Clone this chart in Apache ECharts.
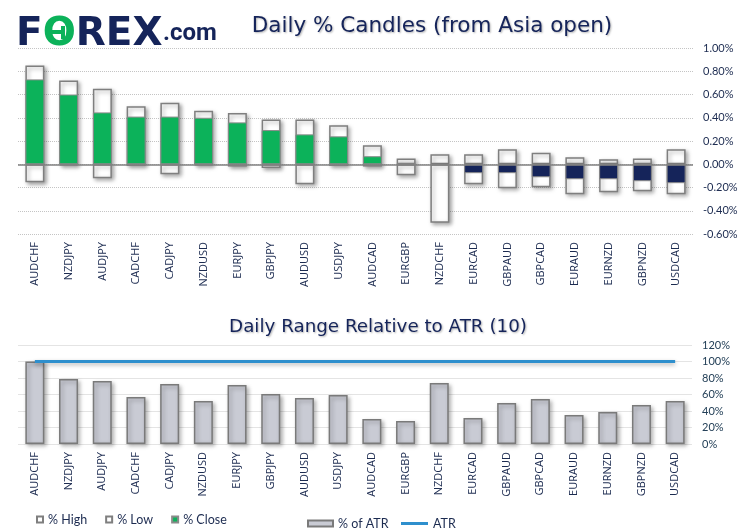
<!DOCTYPE html>
<html>
<head>
<meta charset="utf-8">
<script src="https://cdn.jsdelivr.net/npm/echarts@6/dist/echarts.min.js"></script>
<style>html,body{margin:0;padding:0;background:#fff;}#c{width:749px;height:532px;}</style>
</head>
<body>
<div id="c"></div>
<script>
var categories = ['AUDCHF','NZDJPY','AUDJPY','CADCHF','CADJPY','NZDUSD','EURJPY','GBPJPY','AUDUSD','USDJPY','AUDCAD','EURGBP','NZDCHF','EURCAD','GBPAUD','GBPCAD','EURAUD','EURNZD','GBPNZD','USDCAD'];
var highVals  = [0.85,0.72,0.65,0.50,0.53,0.46,0.44,0.385,0.385,0.335,0.163,0.05,0.086,0.086,0.129,0.10,0.06,0.043,0.05,0.129];
var lowVals   = [-0.155,-0.01,-0.12,-0.015,-0.086,-0.01,-0.02,-0.032,-0.172,-0.015,-0.02,-0.095,-0.504,-0.172,-0.206,-0.197,-0.258,-0.24,-0.232,-0.258];
var closeVals = [0.73,0.60,0.446,0.41,0.41,0.40,0.36,0.294,0.257,0.24,0.069,0.002,-0.005,-0.077,-0.077,-0.112,-0.129,-0.129,-0.146,-0.163];
var atrPctVals = [100,78.8,76.4,57,72.7,52.1,71.5,60.6,55.8,59.4,30.3,27.9,73.9,31.5,49.7,54.5,35.2,38.8,47.3,52.1];
var atrLineVals = [100,100,100,100,100,100,100,100,100,100,100,100,100,100,100,100,100,100,100,100];
var topTicks = {min:-0.6, max:1.0, interval:0.2};
var botTicks = {min:0, max:120, interval:20};

var NAVY = '#15245a', GREEN = '#0cb25a', TXT = '#1c2b50';
var FONT = 'Lato, "Open Sans", sans-serif';
var chart = echarts.init(document.getElementById('c'), null, {renderer:'canvas'});
var boxStyle = {color:'#ffffff', borderColor:'#7f7f7f', borderWidth:1.5, shadowColor:'rgba(0,0,0,0.35)', shadowBlur:4, shadowOffsetX:2, shadowOffsetY:2};
var closeData = closeVals.map(function(v){ return {value:v, itemStyle:{color: v>=0 ? GREEN : NAVY}}; });
var titleShadow = {textShadowColor:'rgba(0,0,0,0.3)', textShadowBlur:2, textShadowOffsetX:1, textShadowOffsetY:1};

chart.setOption({
  animation:false,
  textStyle:{fontFamily:FONT},
  graphic:[
    {type:'text', left:16, top:15, style:{text:'{n|F}{g|O}{n|REX}', rich:{n:{font:'bold 39px "DejaVu Sans"', fill:NAVY}, g:{font:'bold 39px "DejaVu Sans"', fill:GREEN}}}},
    {type:'rect', shape:{x:48, y:30, width:16, height:4}, style:{fill:GREEN}, z:100},
    {type:'rect', shape:{x:61, y:26, width:4, height:13}, style:{fill:GREEN}, z:100},
    {type:'text', left:163, top:22, style:{text:'.com', font:'bold 24px Roboto', fill:NAVY}},
    {type:'text', x:432, y:26, style:Object.assign({text:'Daily % Candles (from Asia open)', font:'21.5px "DejaVu Sans"', fill:NAVY, textAlign:'center', textVerticalAlign:'middle'}, titleShadow)},
    {type:'text', x:378, y:327, style:Object.assign({text:'Daily Range Relative to ATR (10)', font:'18.3px "DejaVu Sans"', fill:NAVY, textAlign:'center', textVerticalAlign:'middle'}, titleShadow)}
  ],
  legend:[
    {data:['% High','% Low','% Close'], left:31, top:508, icon:'rect', itemWidth:6, itemHeight:6, itemGap:18, textStyle:{color:TXT, fontSize:12.5, fontFamily:FONT}},
    {data:['% of ATR'], left:302, top:512, icon:'rect', itemWidth:25, itemHeight:6, textStyle:{color:TXT, fontSize:12.5, fontFamily:FONT}},
    {data:['ATR'], left:396, top:512, icon:'rect', itemWidth:27, itemHeight:3, textStyle:{color:TXT, fontSize:12.5, fontFamily:FONT}}
  ],
  grid:[
    {left:18, right:56, top:48, bottom:298},
    {left:18, right:57, top:345, bottom:88}
  ],
  xAxis:[
    {type:'category', gridIndex:0, data:categories, axisLine:{show:false, onZero:false}, axisTick:{show:false}, axisLabel:{rotate:90, margin:8, fontSize:11, color:TXT, fontFamily:'"Open Sans"'}},
    {type:'category', gridIndex:1, data:categories, axisLine:{show:false}, axisTick:{show:false}, axisLabel:{rotate:90, margin:8, fontSize:11, color:TXT, fontFamily:'"Open Sans"'}}
  ],
  yAxis:[
    {type:'value', gridIndex:0, position:'right', min:topTicks.min, max:topTicks.max, interval:topTicks.interval, axisLabel:{margin:10, fontSize:11, color:TXT, fontFamily:FONT, formatter:function(v){return v.toFixed(2)+'%';}}, splitLine:{lineStyle:{type:'dotted', color:'#c4c4c4'}}, axisLine:{show:false}, axisTick:{show:false}},
    {type:'value', gridIndex:1, position:'right', min:botTicks.min, max:botTicks.max, interval:botTicks.interval, axisLabel:{margin:10, fontSize:11, color:'#244058', fontFamily:FONT, formatter:function(v){return v+'%';}}, splitLine:{lineStyle:{color:'#e4e4e4'}}, axisLine:{show:false}, axisTick:{show:false}}
  ],
  series:[
    {name:'% High', type:'bar', xAxisIndex:0, yAxisIndex:0, data:highVals, barWidth:19, barGap:'-100%', itemStyle:boxStyle,
      markLine:{silent:true, symbol:'none', label:{show:false}, lineStyle:{color:'#808080', width:1.5, type:'solid'}, data:[{yAxis:0}]}},
    {name:'% Low', type:'bar', xAxisIndex:0, yAxisIndex:0, data:lowVals, barWidth:19, barGap:'-100%', itemStyle:boxStyle},
    {name:'% Close', type:'bar', xAxisIndex:0, yAxisIndex:0, data:closeData, barWidth:19, barGap:'-100%', itemStyle:{color:GREEN, borderColor:'#8a8a8a', borderWidth:1}},
    {name:'% of ATR', type:'bar', xAxisIndex:1, yAxisIndex:1, data:atrPctVals, barWidth:19, itemStyle:{color:'#c9cbd4', borderColor:'#7a7a7a', borderWidth:1.5, shadowColor:'rgba(0,0,0,0.3)', shadowBlur:4, shadowOffsetX:2, shadowOffsetY:2}},
    {name:'ATR', type:'line', xAxisIndex:1, yAxisIndex:1, data:atrLineVals, symbol:'none', lineStyle:{color:'#2e8fcd', width:3, shadowColor:'rgba(0,0,0,0.3)', shadowBlur:4, shadowOffsetY:2}, itemStyle:{color:'#2e8fcd'}, z:5}
  ]
});
</script>
</body>
</html>
